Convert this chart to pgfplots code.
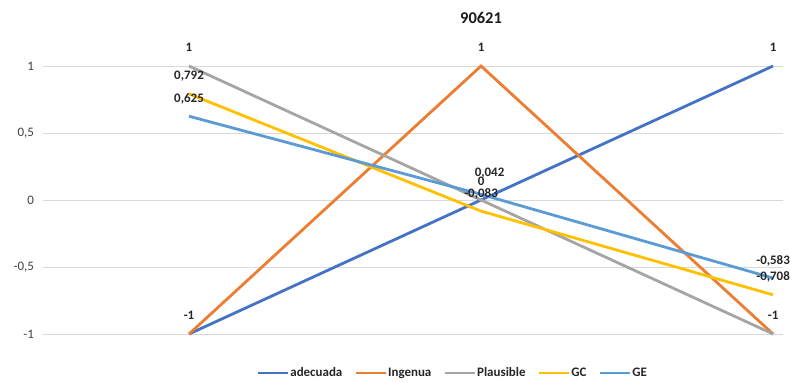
\documentclass[border=0pt]{standalone}
\usepackage{pgfplots}
\pgfplotsset{compat=1.18}
\usepackage{fontspec}
\setmainfont{Carlito}
\definecolor{cA}{HTML}{4472C4}
\definecolor{cI}{HTML}{ED7D31}
\definecolor{cP}{HTML}{A5A5A5}
\definecolor{cGC}{HTML}{FFC000}
\definecolor{cGE}{HTML}{5B9BD5}
\definecolor{txt}{HTML}{262626}
\definecolor{tick}{HTML}{404040}
\begin{document}
\begin{tikzpicture}[x=1bp,y=1bp]
\path (-43,-47) rectangle (753,334);
\begin{axis}[
  at={(0,0)}, anchor=south west,
  scale only axis, width=740bp, height=268bp,
  xmin=-0.5, xmax=2.034, ymin=-1, ymax=1,
  clip=false,
  axis line style={draw=none},
  xtick=\empty,
  ytick={-1,-0.5,0,0.5,1},
  major tick length=0pt,
  ymajorgrids,
  grid style={color=black!15, line width=0.8bp},
  yticklabel style={font=\fontsize{13}{15}\selectfont, color=tick, xshift=-5.5bp},
  /pgf/number format/use comma,
  /pgf/number format/assume math mode=true,
  every axis plot/.append style={line width=2.8bp, no markers},
  nodes near coords,
  point meta=explicit symbolic,
  every node near coord/.append style={font=\bfseries\fontsize{13}{15}\selectfont, color=txt, anchor=base, inner sep=0pt, yshift=14bp},
  legend columns=5,
  legend style={at={(0.553,-0.1455)}, anchor=center, draw=none, font=\bfseries\fontsize{13}{15}\selectfont, text=txt,
    nodes={inner xsep=0.5bp},
    /tikz/every odd column/.append style={column sep=0bp},
    /tikz/every even column/.append style={column sep=12bp}},
  legend image code/.code={\draw[#1, line width=2.8bp] (0bp,0bp) -- (30bp,0bp);},
]
\addplot[cA] coordinates {(0,-1) [] (1,0) [0] (2,1) [1]};
\addlegendentry{adecuada}
\addplot[cI] coordinates {(0,-1) [-1] (1,1) [1] (2,-1) []};
\addlegendentry{Ingenua}
\addplot[cP] coordinates {(0,1) [1] (1,0) [] (2,-1) [-1]};
\addlegendentry{Plausible}
\addplot[cGC] coordinates {(0,0.792) [0,792] (1,-0.083) [-0,083] (2,-0.708) [-0,708]};
\addlegendentry{GC}
\addplot[cGE] coordinates {(0,0.625) [0,625] (1,0.042) [\kern17bp\raisebox{4bp}{0,042}] (2,-0.583) [-0,583]};
\addlegendentry{GE}
\end{axis}
\node[font=\bfseries\fontsize{16.5}{18}\selectfont, text=black!90] at (438,316) {90621};
\end{tikzpicture}
\end{document}
